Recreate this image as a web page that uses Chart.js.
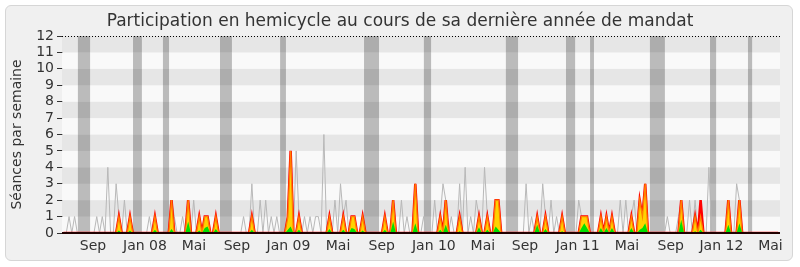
<!DOCTYPE html>
<html>
<head>
<meta charset="utf-8">
<script src="https://cdn.jsdelivr.net/npm/chart.js@4.4.1/dist/chart.umd.min.js"></script>
<style>
  html, body { margin: 0; padding: 0; background: #fff; }
  #frame { position: absolute; left: 5px; top: 5px; width: 786px; height: 254px; border: 1px solid #d6d6d6; border-radius: 6px; background: #f0f0f0; }
  #wrap { position: absolute; left: 0; top: 0; width: 800px; height: 267px; }
</style>
</head>
<body>
<div id="frame"></div>
<div id="wrap"><canvas id="chart" width="800" height="267"></canvas></div>
<script>
'use strict';
// ***** DATA (one value per week, week 0 = mid June 2007) *****
let seances = [
  0,0,1,0,1,0,0,0,0,0, 0,0,1,0,1,0,4,0,0,3, // 0-19
  1,0,2,0,1,0,0,0,0,0, 0,1,0,1,0,0,0,0,0,2, // 20-39
  1,0,0,1,0,2,0,2,0,1, 0,1,1,0,0,1,0,0,0,0, // 40-59
  0,0,0,0,0,1,0,0,3,0, 0,2,0,2,0,1,0,1,0,0, // 60-79
  0,1,5,0,5,1,0,1,0,1, 0,1,1,0,6,0,1,0,2,0, // 80-99
  3,1,2,0,1,1,0,0,1,0, 0,0,0,0,0,0,1,0,0,2, // 100-119
  0,0,2,0,1,0,0,3,0,0, 1,0,0,0,2,0,1,3,2,0, // 120-139
  1,0,0,3,0,4,0,1,0,2, 1,0,4,1,0,0,2,2,0,0, // 140-159
  0,0,0,0,0,0,0,3,0,1, 0,1,0,3,1,0,2,0,1,0, // 160-179
  1,0,0,0,0,0,2,1,1,1, 0,0,0,0,1,0,1,0,1,0, // 180-199
  0,2,0,2,0,1,2,0,2,1, 3,0,0,0,0,0,0,0,1,0, // 200-219
  0,0,1,2,0,0,2,0,2,0, 2,0,0,4,0,0,0,0,0,0, // 220-239
  2,0,0,3,2,0,0,0,0,0, 0,0,0,0,0,0,0,0,0    // 240-258
];
let presences = [
  0,0,0,0,0,0,0,0,0,0, 0,0,0,0,0,0,0,0,0,0,
  1,0,0,0,1,0,0,0,0,0, 0,0,0,1,0,0,0,0,0,2,
  0,0,0,0,0,2,0,0,0,1, 0,1,1,0,0,1,0,0,0,0,
  0,0,0,0,0,0,0,0,1,0, 0,0,0,0,0,0,0,0,0,0,
  0,1,5,0,0,1,0,0,0,0, 0,0,0,0,0,0,1,0,0,0,
  0,1,0,0,1,1,0,0,1,0, 0,0,0,0,0,0,1,0,0,2,
  0,0,0,0,0,0,0,3,0,0, 0,0,0,0,0,0,1,0,2,0,
  0,0,0,1,0,0,0,0,0,0, 1,0,0,1,0,0,2,2,0,0,
  0,0,0,0,0,0,0,0,0,0, 0,1,0,0,1,0,0,0,0,0,
  1,0,0,0,0,0,0,1,1,1, 0,0,0,0,1,0,1,0,1,0,
  0,0,0,0,0,1,0,0,2,1, 3,0,0,0,0,0,0,0,0,0,
  0,0,0,2,0,0,0,0,1,0, 2,0,0,0,0,0,0,0,0,0,
  2,0,0,0,2,0,0,0,0,0, 0,0,0,0,0,0,0,0,0
];
let participations = [
  0,0,0,0,0,0,0,0,0,0, 0,0,0,0,0,0,0,0,0,0,
  1,0,0,0,1,0,0,0,0,0, 0,0,0,1,0,0,0,0,0,2,
  0,0,0,0,0,2,0,0,0,1, 0,1,1,0,0,1,0,0,0,0,
  0,0,0,0,0,0,0,0,1,0, 0,0,0,0,0,0,0,0,0,0,
  0,1,5,0,0,1,0,0,0,0, 0,0,0,0,0,0,1,0,0,0,
  0,1,0,0,1,1,0,0,1,0, 0,0,0,0,0,0,1,0,0,2,
  0,0,0,0,0,0,0,3,0,0, 0,0,0,0,0,0,1,0,2,0,
  0,0,0,1,0,0,0,0,0,0, 1,0,0,1,0,0,2,2,0,0,
  0,0,0,0,0,0,0,0,0,0, 0,1,0,0,1,0,0,0,0,0,
  1,0,0,0,0,0,0,1,1,1, 0,0,0,0,1,0,1,0,1,0,
  0,0,0,0,0,1,0,0,2,1, 3,0,0,0,0,0,0,0,0,0,
  0,0,0,2,0,0,0,0,1,0, 1,0,0,0,0,0,0,0,0,0,
  2,0,0,0,2,0,0,0,0,0, 0,0,0,0,0,0,0,0,0
];
let interventions = [
  0,0,0,0,0,0,0,0,0,0, 0,0,0,0,0,0,0,0,0,0,
  0.15,0,0,0,0.15,0,0,0,0,0, 0,0,0,0.2,0,0,0,0,0,0.25,
  0,0,0,0,0,0.7,0,0,0,0.15, 0,0.3,0.4,0,0,0.25,0,0,0,0,
  0,0,0,0,0,0,0,0,0.2,0, 0,0,0,0,0,0,0,0,0,0,
  0,0.2,0.4,0,0,0.2,0,0,0,0, 0,0,0,0,0,0,0.25,0,0,0,
  0,0.2,0,0,0.3,0.25,0,0,0.15,0, 0,0,0,0,0,0,0.2,0,0,0.7,
  0,0,0,0,0,0,0,0.6,0,0, 0,0,0,0,0,0,0.2,0,0.5,0,
  0,0,0,0.1,0,0,0,0,0,0, 0.35,0,0,0.2,0,0,0.4,0.2,0,0,
  0,0,0,0,0,0,0,0,0,0, 0,0.5,0,0,0.25,0,0,0,0,0,
  0.1,0,0,0,0,0,0,0.3,0.6,0.3, 0,0,0,0,0.3,0,0.3,0,0.3,0,
  0,0,0,0,0,0.3,0,0,0.2,0.3, 0.6,0,0,0,0,0,0,0,0,0,
  0,0,0,0.8,0,0,0,0,0.1,0, 0.2,0,0,0,0,0,0,0,0,0,
  0.5,0,0,0,0.6,0,0,0,0,0, 0,0,0,0,0,0,0,0,0
];

// holidays (in weeks)
let vacStart = [5.2, 25.1, 35.9, 56.5, 78.2, 108.5, 130.1, 159.7, 181.4, 190.1, 211.7, 233.4, 247.1];
let vacEnd = [9.6, 28.3, 38.1, 60.8, 80.3, 113.9, 132.7, 164.1, 184.7, 191.5, 217.1, 235.6, 248.6];

// x axis labels (in weeks)
let tickLabels = ['Sep', 'Jan 08', 'Mai', 'Sep', 'Jan 09', 'Mai', 'Sep', 'Jan 10', 'Mai', 'Sep', 'Jan 11', 'Mai', 'Sep', 'Jan 12', 'Mai'];
let tickWeeks = [10.65, 29.4, 47.1, 62.6, 81.2, 99.1, 114.9, 133.7, 151.4, 166.6, 185.6, 203.4, 219.2, 237.5, 255.2];

let fontFamily = "'DejaVu Sans', sans-serif";

// ***** HELPERS *****
function toPoints(values) {
  return values.map((v, i) => ({ x: i, y: v }));
}

// bands, holidays, top dotted line and baseline
let backdrop = {
  id: 'backdrop',
  beforeDatasetsDraw(chart) {
    let { ctx, chartArea: a, scales: { x, y } } = chart;
    ctx.save();
    for (let k = 0; k < 12; k++) {
      let top = y.getPixelForValue(k + 1);
      let bottom = y.getPixelForValue(k);
      ctx.fillStyle = k % 2 ? '#e6e6e6' : '#f9f9f9';
      ctx.fillRect(a.left, top, a.right - a.left, bottom - top);
    }
    ctx.globalCompositeOperation = 'multiply';
    ctx.fillStyle = '#c0c0c0';
    vacStart.forEach((s, i) => {
      let l = x.getPixelForValue(s);
      let r = x.getPixelForValue(vacEnd[i]);
      ctx.fillRect(l, a.top, r - l, a.bottom - a.top);
    });
    ctx.restore();
  },
  afterDatasetsDraw(chart) {
    let { ctx, chartArea: a, scales: { y } } = chart;
    ctx.save();
    let yTop = Math.round(y.getPixelForValue(12)) + 0.5;
    ctx.strokeStyle = '#000';
    ctx.lineWidth = 1;
    ctx.setLineDash([1, 2]);
    ctx.beginPath();
    ctx.moveTo(a.left, yTop);
    ctx.lineTo(a.right, yTop);
    ctx.stroke();
    ctx.setLineDash([]);
    let y0 = y.getPixelForValue(0);
    ctx.strokeStyle = '#220000';
    ctx.lineWidth = 2;
    ctx.beginPath();
    ctx.moveTo(a.left, y0);
    ctx.lineTo(a.right, y0);
    ctx.stroke();
    ctx.restore();
  }
};

// ***** CHART *****
let chartConfig = {
  type: 'line',
  data: {
    datasets: [
      { data: toPoints(interventions), borderWidth: 0, borderColor: '#00dd00', backgroundColor: '#00e000', fill: 'origin' },
      { data: toPoints(participations), borderWidth: 1.3, borderColor: '#ff7f00', backgroundColor: '#ffd200', fill: 'origin' },
      { data: toPoints(presences), borderWidth: 2.5, borderColor: '#ff0000', backgroundColor: '#ff0000', fill: 'origin' },
      { data: toPoints(seances), borderWidth: 1, borderColor: '#b8b8b8', fill: false }
    ]
  },
  options: {
    responsive: false,
    animation: false,
    layout: { padding: { top: 0, right: 0, bottom: 0, left: 0 } },
    elements: { line: { tension: 0 }, point: { radius: 0 } },
    plugins: {
      legend: { display: false },
      tooltip: { enabled: false },
      title: {
        display: true,
        text: 'Participation en hemicycle au cours de sa dernière année de mandat',
        color: '#333',
        font: { family: fontFamily, size: 17, weight: 'normal' },
        padding: { top: 11, bottom: 4.6 }
      }
    },
    scales: {
      x: {
        type: 'linear',
        min: -0.54,
        max: 258.66,
        grid: { display: false },
        border: { display: false },
        afterFit: (s) => { s.height = 34; },
        afterBuildTicks: (s) => { s.ticks = tickWeeks.map((v) => ({ value: v })); },
        ticks: {
          autoSkip: false,
          maxRotation: 0,
          padding: -3,
          color: '#333',
          font: { family: fontFamily, size: 14 },
          callback: (value, index) => tickLabels[index]
        }
      },
      y: {
        min: 0,
        max: 12,
        afterFit: (s) => { s.width = 62; },
        grid: { drawOnChartArea: false, drawTicks: true, tickLength: 5, color: '#333' },
        border: { display: true, color: '#000', width: 1 },
        ticks: { stepSize: 1, autoSkip: false, padding: 3, color: '#333', font: { family: fontFamily, size: 14 } },
        title: {
          display: true,
          text: 'Séances par semaine',
          color: '#333',
          font: { family: fontFamily, size: 14 },
          padding: { top: 9, bottom: 0 }
        }
      },
      // empty right margin so the title stays centred on the page
      yRight: {
        position: 'right',
        min: 0,
        max: 12,
        afterFit: (s) => { s.width = 20; },
        grid: { display: false },
        border: { display: false },
        ticks: { display: false }
      }
    }
  },
  plugins: [backdrop]
};

new Chart(document.getElementById('chart'), chartConfig);
</script>
</body>
</html>
